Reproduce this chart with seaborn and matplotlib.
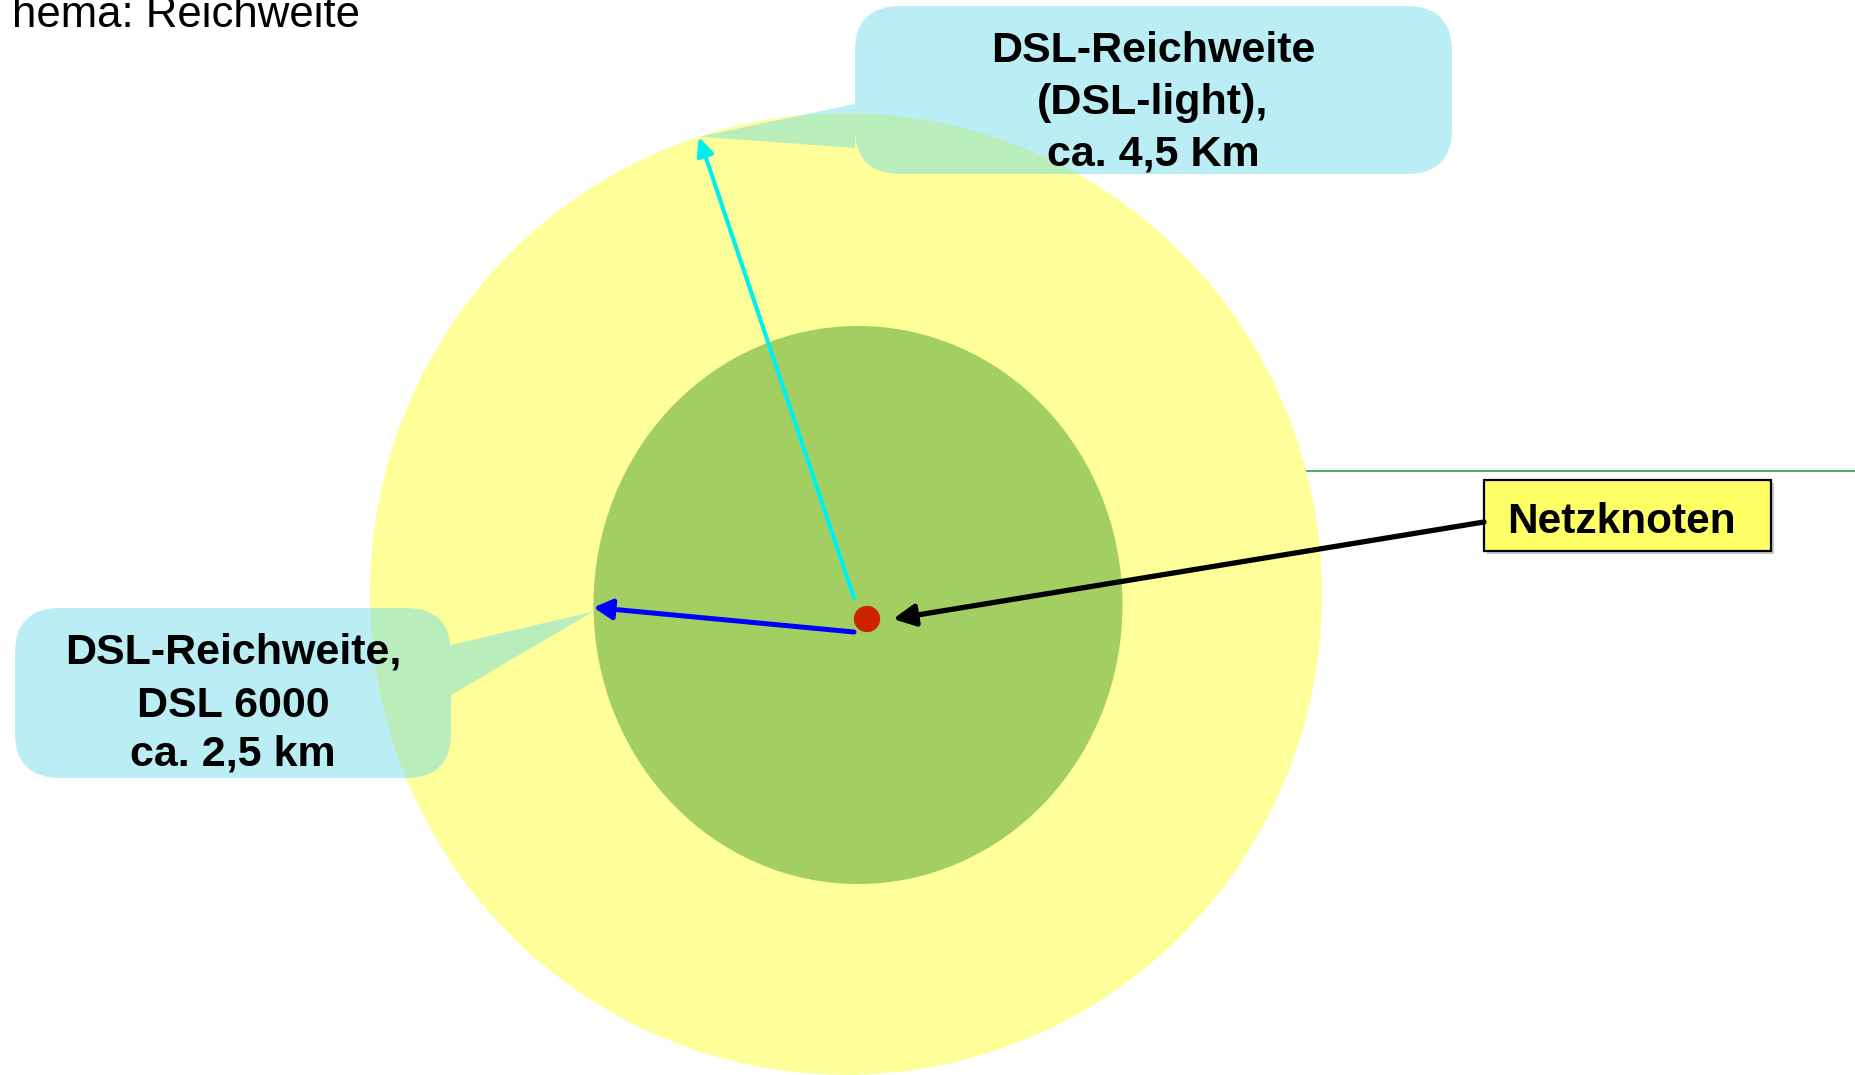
import matplotlib
matplotlib.use('Agg')
import matplotlib.pyplot as plt
import seaborn as sns
import numpy as np
import pandas as pd
from matplotlib.patches import Ellipse, FancyBboxPatch, FancyArrowPatch, PathPatch, Rectangle
from matplotlib.path import Path

# data: DSL reach around one network node
reach_km = [4.5, 2.5]                       # DSL-light (outer), DSL 6000 (inner)
reach_colors = ['#FFFF99', '#A3CF62']
reach_arrow_colors = ['#00F0F0', '#0000FF']
reach_arrow_angle = [108, 180.5]            # direction of the reach arrows, degrees
callout_lines = [
    ['DSL-Reichweite', '(DSL-light),', 'ca. 4,5 Km'],
    ['DSL-Reichweite,', 'DSL 6000', 'ca. 2,5 km'],
]
node_label = 'Netzknoten'
title_text = 'hema: Reichweite'

# layout (pixels, canvas 1856 x 1075, y downwards)
W, H = 1856, 1075
PX_KM_X = 105.8
ring_y_stretch = [1.01, 1.055]              # rings are drawn slightly taller than wide
ring_centers = [(846, 594), (858, 605)]
node_xy = (867, 619)
BOLD = ['Liberation Sans', 'DejaVu Sans']

sns.set_theme(style='white')
plt.rcParams['font.family'] = BOLD
plt.rcParams['text.color'] = 'black'

fig = plt.figure(figsize=(W / 100, H / 100), dpi=100)
ax = fig.add_axes([0, 0, 1, 1])
ax.set_xlim(0, W)
ax.set_ylim(H, 0)
ax.axis('off')

# thin green guide line on the right, behind the rings
line_df = pd.DataFrame({'x': [1200, W], 'y': [471, 471]})
sns.lineplot(data=line_df, x='x', y='y', color='#4CAF50', lw=1.4, ax=ax, zorder=0.5)

# reach rings
for km, col, (cx, cy), st, z in zip(reach_km, reach_colors, ring_centers, ring_y_stretch, [1, 2]):
    ax.add_patch(Ellipse((cx, cy), 2 * km * PX_KM_X, 2 * km * PX_KM_X * st,
                         facecolor=col, edgecolor='none', zorder=z))


def callout(x0, y0, w, h, wedge):
    box = FancyBboxPatch((x0, y0), w, h, boxstyle='round,pad=0,rounding_size=45')
    bp = box.get_path()
    wp = Path(list(wedge) + [wedge[0]], [Path.MOVETO, Path.LINETO, Path.LINETO, Path.CLOSEPOLY])
    ax.add_patch(PathPatch(Path.make_compound_path(bp, wp), facecolor='#66D9E8',
                           edgecolor='none', alpha=0.45, zorder=3))


# reach arrow tips on the ring edges
tips = []
for km, ang, (cx, cy), st in zip(reach_km, reach_arrow_angle, ring_centers, ring_y_stretch):
    a = np.deg2rad(ang)
    tips.append((cx + km * PX_KM_X * np.cos(a), cy - km * PX_KM_X * st * np.sin(a)))

callout(855, 6, 597, 168, [(855, 104), tips[0], (855, 148)])
callout(15, 608, 436, 170, [(451, 645), (tips[1][0], tips[1][1] + 4), (451, 695)])

tails = [(854, 598), (854, 632)]
widths = [3.0, 3.6]
heads = [(11, 5), (11, 6)]
for tail, tip, col, lw, (hl, hw) in zip(tails, tips, reach_arrow_colors, widths, heads):
    ax.add_patch(FancyArrowPatch(tail, tip, arrowstyle=f'-|>,head_length={hl},head_width={hw}',
                                 mutation_scale=1, color=col, lw=lw, shrinkA=0, shrinkB=0,
                                 zorder=4))

# node label box with pointer
ax.add_patch(Rectangle((1487, 483), 287, 71, facecolor='#C8C8C8', edgecolor='none', zorder=4))
ax.add_patch(Rectangle((1484, 480), 287, 71, facecolor='#FFFF66', edgecolor='black',
                       lw=1.6, zorder=4.1))
ax.add_patch(FancyArrowPatch((1484, 522), (893, 619), arrowstyle='-|>,head_length=13,head_width=6.5',
                             mutation_scale=1, color='black', lw=3.8, shrinkA=0, shrinkB=0,
                             zorder=4.2))
ax.text(1507, 533, node_label, fontsize=30.5, fontweight='bold', va='baseline', ha='left',
        color='black', zorder=5)

# network node
node_df = pd.DataFrame({'x': [node_xy[0]], 'y': [node_xy[1]]})
sns.scatterplot(data=node_df, x='x', y='y', s=360, color='#CC2200', edgecolor='none',
                ax=ax, zorder=5, legend=False)
ax.set_xlim(0, W)
ax.set_ylim(H, 0)
ax.set_xlabel('')
ax.set_ylabel('')

# callout texts
for lines, cx, baselines in zip(callout_lines, [1153, 233], [[62, 114, 165], [664, 717, 766]]):
    for txt, by in zip(lines, baselines):
        ax.text(cx, by, txt, fontsize=31, fontweight='bold', ha='center', va='baseline',
                color='black', zorder=6)

# page heading, cut at the top edge as in the source slide
ax.text(12, 27, title_text, fontsize=31.5, va='baseline', ha='left', color='black',
        family=['Liberation Sans', 'DejaVu Sans'], zorder=6)

fig.savefig('out.png', dpi=100)
